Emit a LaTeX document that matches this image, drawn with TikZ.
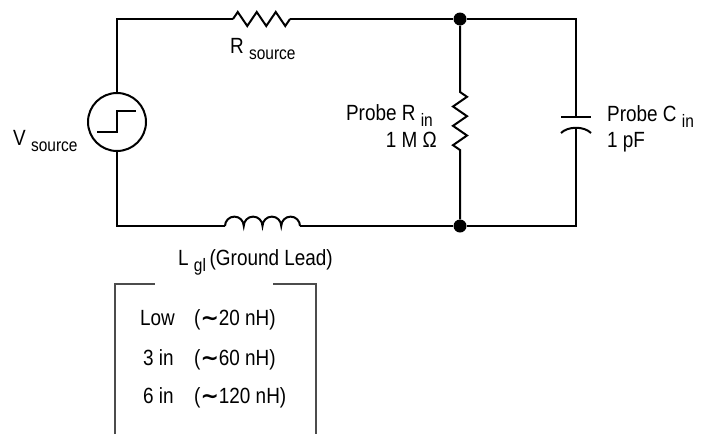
\documentclass[tikz,border=0pt]{standalone}
\usepackage{fontspec}
\setmainfont{Liberation Sans}[FakeStretch=0.86]
\newfontfamily\symfont{DejaVu Sans}
\newcommand\lsub[1]{\ \raisebox{-6pt}{\fontsize{18}{20}\selectfont #1}}
\newcommand\tildesym{{\symfont\bfseries ∼}}
\begin{document}
\begin{tikzpicture}[x=1pt,y=-1pt,
  wire/.style={line width=2pt, line join=miter},
  lbl/.style={inner sep=0pt, font=\fontsize{22}{24}\selectfont},
  dotnode/.style={circle, fill=black, inner sep=0pt, minimum size=13pt},
  boxline/.style={line width=1.2pt, draw=black!70}]
\useasboundingbox (0,0) rectangle (703,434);
% junctions and corners
\coordinate (TL) at (117,19);
\coordinate (BL) at (117,226);
\coordinate (TR) at (576,19);
\coordinate (BR) at (576,226);
\coordinate (Rs1) at (233,19);
\coordinate (Rs2) at (290,19);
\coordinate (L1) at (225,226);
\coordinate (L2) at (300,226);
\coordinate (Ri1) at (460,92);
\coordinate (Ri2) at (460,150);
\coordinate (C1) at (576,117);
\coordinate (C2) at (576,128);
\node[dotnode] (Dtop) at (460,19) {};
\node[dotnode] (Dbot) at (460,226) {};
\node[circle, draw, line width=2pt, minimum size=58pt, inner sep=0pt] (Vs) at (117,122) {};
% step symbol
\draw[line width=1.8pt] (97,132) -- (117,132) -- (117,111) -- (136,111);
% wires
\draw[wire] (Vs.north) -- (TL) -- (Rs1);
\draw[wire] (Rs1) -- (237.75,12) -- (247.25,26) -- (256.75,12) -- (266.25,26)
  -- (275.75,12) -- (285.25,26) -- (Rs2);
\draw[wire] (Rs2) -- (Dtop) -- (TR) -- (C1);
\draw[wire] (561,117) -- (591,117);
\draw[wire] (561,133) .. controls (568,126) and (584,126) .. (591,133);
\draw[wire] (C2) -- (BR) -- (Dbot) -- (L2);
\draw[wire] (L1) arc[start angle=180, end angle=0, radius=9.375pt]
  arc[start angle=180, end angle=0, radius=9.375pt]
  arc[start angle=180, end angle=0, radius=9.375pt]
  arc[start angle=180, end angle=0, radius=9.375pt];
\draw[wire] (L1) -- (BL) -- (Vs.south);
\draw[wire] (Dtop) -- (Ri1) -- (467,96.83) -- (453,106.5) -- (467,116.17)
  -- (453,125.83) -- (467,135.5) -- (453,145.17) -- (Ri2) -- (Dbot);
% labels
\node[lbl, anchor=base west] (Rsl) at (230,53.5) {R\lsub{source}};
\node[lbl, anchor=base west] (Vsl) at (13,145) {V\lsub{source}};
\node[lbl, anchor=base east] (Ril1) at (433,120) {Probe R\lsub{in}};
\node[lbl, anchor=base east] (Ril2) at (437,147) {1 M Ω};
\node[lbl, anchor=base west] (Cil1) at (607,121) {Probe C\lsub{in}};
\node[lbl, anchor=base west] (Cil2) at (607,147) {1 pF};
\node[lbl, anchor=base west] (Lgl) at (178,265) {L\lsub{gl}\,(Ground Lead)};
% table box
\coordinate (BxTL) at (115,284);
\coordinate (BxTR) at (316,284);
\coordinate (BxBL) at (115,434);
\coordinate (BxBR) at (316,434);
\draw[boxline] (BxBL) -- (BxTL) -- (155,284);
\draw[boxline] (273,284) -- (BxTR) -- (BxBR);
\node[lbl, anchor=base west] (r1a) at (140,325) {Low};
\node[lbl, anchor=base west] (r1b) at (194,325) {(\tildesym20 nH)};
\node[lbl, anchor=base west] (r2a) at (143,365) {3 in};
\node[lbl, anchor=base west] (r2b) at (194,365) {(\tildesym60 nH)};
\node[lbl, anchor=base west] (r3a) at (143,403) {6 in};
\node[lbl, anchor=base west] (r3b) at (194,403) {(\tildesym120 nH)};
\end{tikzpicture}
\end{document}
